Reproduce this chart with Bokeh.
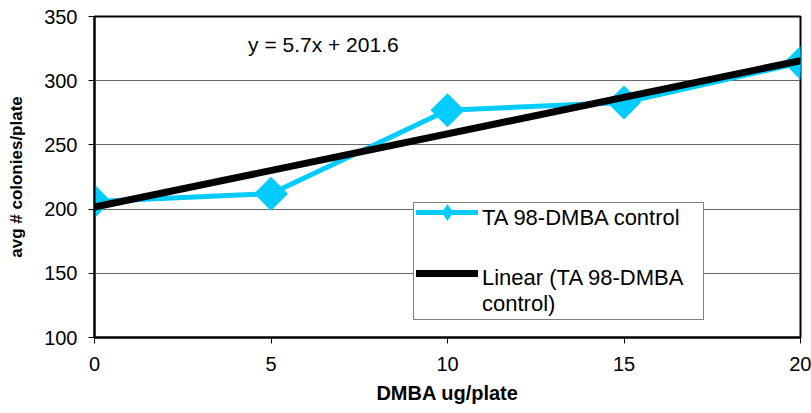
import math
from bokeh.plotting import figure
from bokeh.models import Range1d, FixedTicker, Label, Legend, LegendItem
from bokeh.embed import file_html
from bokeh.resources import INLINE

# ---- data ----
dose = [0, 5, 10, 15, 20]
colonies = [206, 212, 277, 283, 314]
trend_slope = 5.7
trend_intercept = 201.6
x_ticks = [0, 5, 10, 15, 20]
y_ticks = [100, 150, 200, 250, 300, 350]
series_name = "TA 98-DMBA control"
trend_name = "Linear (TA 98-DMBA\ncontrol)"
equation = "y = 5.7x + 201.6"

trend_x = [min(dose), max(dose)]
trend_y = [trend_intercept + trend_slope * v for v in trend_x]

FONT = "Liberation Sans"
CYAN = "#00CCFF"

p = figure(width=811, height=413, output_backend="svg", toolbar_location=None,
           x_range=Range1d(0, 20), y_range=Range1d(100, 350),
           min_border_left=94, min_border_right=11, min_border_top=16, min_border_bottom=76,
           background_fill_color="white", border_fill_color="white")

p.outline_line_color = "black"
p.outline_line_width = 2
p.xgrid.visible = False
p.ygrid.grid_line_color = "#666666"
p.ygrid.grid_line_width = 1
p.ygrid.ticker = FixedTicker(ticks=y_ticks)

for ax in (p.xaxis[0], p.yaxis[0]):
    ax.axis_line_color = "black"
    ax.axis_line_width = 2
    ax.major_tick_line_color = "black"
    ax.major_tick_line_width = 1
    ax.major_tick_out = 6
    ax.major_tick_in = 0
    ax.minor_tick_line_color = None
    ax.major_label_text_font = FONT
    ax.major_label_text_font_size = "20px"
    ax.major_label_text_color = "black"
    ax.axis_label_text_font = FONT
    ax.axis_label_text_font_style = "bold"
    ax.axis_label_text_color = "black"

p.xaxis.ticker = FixedTicker(ticks=x_ticks)
p.yaxis.ticker = FixedTicker(ticks=y_ticks)
p.xaxis.major_label_standoff = 13
p.yaxis.major_label_standoff = 11
p.xaxis.axis_label = "DMBA ug/plate"
p.xaxis.axis_label_text_font_size = "20px"
p.xaxis.axis_label_standoff = 8
p.yaxis.axis_label = "avg # colonies/plate"
p.yaxis.axis_label_text_font_size = "17px"
p.yaxis.axis_label_standoff = 15

l1 = p.line(dose, colonies, line_color=CYAN, line_width=5,
            line_cap="round", line_join="round")
# narrow diamonds (legend sample) hidden beneath the plotted diamonds
d1 = p.scatter(dose, colonies, marker="diamond", size=18,
               fill_color=CYAN, line_color=None)
m1 = p.scatter(dose, colonies, marker="square", angle=math.pi / 4, size=24,
               fill_color=CYAN, line_color=None)
t1 = p.line(trend_x, trend_y, line_color="black", line_width=7, line_cap="round")

blank = p.line(x=[], y=[], line_alpha=0)

p.add_layout(Label(x=4.35, y=319, text=equation, text_font=FONT,
                   text_font_size="21px", text_color="black"))

# legend box with the texts
legend_box = Legend(items=[LegendItem(label=series_name, renderers=[blank]),
                           LegendItem(label=trend_name, renderers=[blank])],
                    location=(319, 17),
                    label_text_font=FONT, label_text_font_size="22px", label_text_color="black",
                    label_text_line_height=1.3, label_width=219,
                    glyph_width=64, glyph_height=20, label_standoff=2, spacing=34,
                    padding=2, margin=0,
                    border_line_color="black", border_line_width=1,
                    background_fill_color="white", background_fill_alpha=1.0)
p.add_layout(legend_box, "center")

# legend samples aligned with the first text line of each entry
legend_series = Legend(items=[LegendItem(label=" ", renderers=[l1, d1])],
                       location=(322, 104),
                       label_text_font_size="2px", label_height=2, label_width=1,
                       glyph_width=62, glyph_height=42, label_standoff=0, spacing=0,
                       padding=0, margin=0,
                       border_line_color=None, background_fill_alpha=0.0)
p.add_layout(legend_series, "center")

legend_trend = Legend(items=[LegendItem(label=" ", renderers=[t1])],
                      location=(322, 54),
                      label_text_font_size="2px", label_height=2, label_width=1,
                      glyph_width=62, glyph_height=20, label_standoff=0, spacing=0,
                      padding=0, margin=0,
                      border_line_color=None, background_fill_alpha=0.0)
p.add_layout(legend_trend, "center")

open("out.html", "w").write(file_html(p, INLINE))
